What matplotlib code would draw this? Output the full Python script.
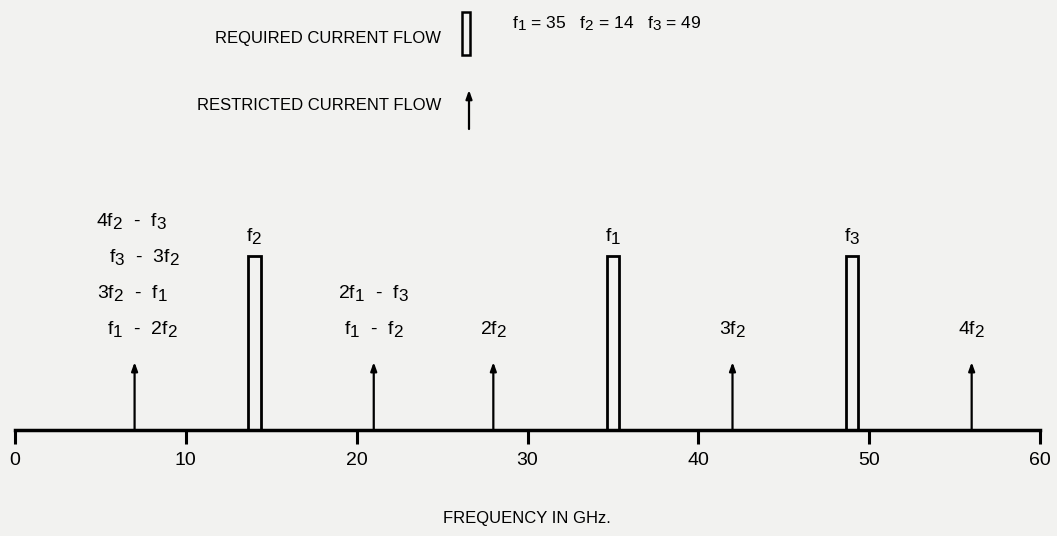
import matplotlib
matplotlib.use("Agg")
import matplotlib.pyplot as plt
import matplotlib._mathtext as _mt
from matplotlib.patches import Rectangle

plt.rcParams['font.family'] = ['Liberation Sans', 'DejaVu Sans']
plt.rcParams['mathtext.fontset'] = 'custom'
plt.rcParams['mathtext.rm'] = 'Liberation Sans'
plt.rcParams['mathtext.it'] = 'Liberation Sans'
plt.rcParams['mathtext.bf'] = 'Liberation Sans:bold'
# the old typewriter-style subscripts are almost full size
_mt.SHRINK_FACTOR = 0.88

# ── data ───────────────────────────────────────────────────────────────
required_freqs = [14, 35, 49]
required_labels = ['f$_2$', 'f$_1$', 'f$_3$']
restricted_freqs = [7, 21, 28, 42, 56]
restricted_labels = [
    ['f$_1$  -  2f$_2$', '3f$_2$  -  f$_1$', 'f$_3$  -  3f$_2$', '4f$_2$  -  f$_3$'],
    ['f$_1$  -  f$_2$', '2f$_1$  -  f$_3$'],
    ['2f$_2$'],
    ['3f$_2$'],
    ['4f$_2$'],
]
given_text = 'f$_1$ = 35   f$_2$ = 14   f$_3$ = 49'
xticks = [0, 10, 20, 30, 40, 50, 60]
bar_height = 1.0
arrow_height = 0.39

W, H = 1057, 536
BG = '#f2f2f0'

fig = plt.figure(figsize=(W / 100, H / 100), dpi=100, facecolor=BG)
ax = fig.add_axes([0, 0, 1, 1], facecolor=BG)

# 0 -> px 15, 60 -> px 1040 ; axis line at px 430, bar top at px 256
sx = 1025 / 60
ax.set_xlim(-15 / sx, 60 + 17 / sx)
sy = 174
ax.set_ylim(-(H - 430) / sy, 430 / sy)

ax.bar(required_freqs, bar_height, width=0.75, fill=False,
       edgecolor='black', linewidth=2)
for fx, lab in zip(required_freqs, required_labels):
    ax.text(fx, bar_height + 20 / sy, lab, ha='center', va='center',
            fontsize=14)

# small per-line x nudges for the stacked labels (layout only)
stack_dx = [0.45, -0.1, 0.55, -0.15]
for fx, labs in zip(restricted_freqs, restricted_labels):
    ax.annotate('', xy=(fx, arrow_height), xytext=(fx, 0),
                arrowprops=dict(arrowstyle='-|>,head_length=0.5,head_width=0.18',
                                color='black', lw=1.6, shrinkA=0, shrinkB=0))
    for i, lab in enumerate(labs):
        dx = stack_dx[i] if fx == restricted_freqs[0] else 0
        ax.text(fx + dx, arrow_height + (33 + 36 * i) / sy, lab,
                ha='center', va='center', fontsize=14)

# axis
for s in ['top', 'right', 'left']:
    ax.spines[s].set_visible(False)
ax.spines['bottom'].set_position(('data', 0))
ax.spines['bottom'].set_bounds(0, 60)
ax.spines['bottom'].set_linewidth(2.5)
ax.set_yticks([])
ax.set_xticks(xticks)
ax.tick_params(axis='x', direction='out', length=10, width=2.2, pad=6,
               labelsize=14)

# header / legend
ax.text(441 / W, 1 - 39 / H, 'REQUIRED CURRENT FLOW', transform=ax.transAxes,
        ha='right', va='center', fontsize=12)
ax.text(441 / W, 1 - 105 / H, 'RESTRICTED CURRENT FLOW', transform=ax.transAxes,
        ha='right', va='center', fontsize=12)
ax.add_patch(Rectangle((462 / W, 1 - 55 / H), 8 / W, 43 / H, fill=False,
                       edgecolor='black', linewidth=1.8, transform=ax.transAxes))
ax.annotate('', xy=(469 / W, 1 - 90 / H), xytext=(469 / W, 1 - 129 / H),
            xycoords='axes fraction', textcoords='axes fraction',
            arrowprops=dict(arrowstyle='-|>,head_length=0.5,head_width=0.18',
                            color='black', lw=1.6, shrinkA=0, shrinkB=0))
ax.text(512 / W, 1 - 24 / H, given_text,
        transform=ax.transAxes, ha='left', va='center', fontsize=12.5)

ax.text(527 / W, 1 - 518 / H, 'FREQUENCY IN GHz.', transform=ax.transAxes,
        ha='center', va='center', fontsize=12)

fig.savefig('out.png', dpi=100, facecolor=BG)
